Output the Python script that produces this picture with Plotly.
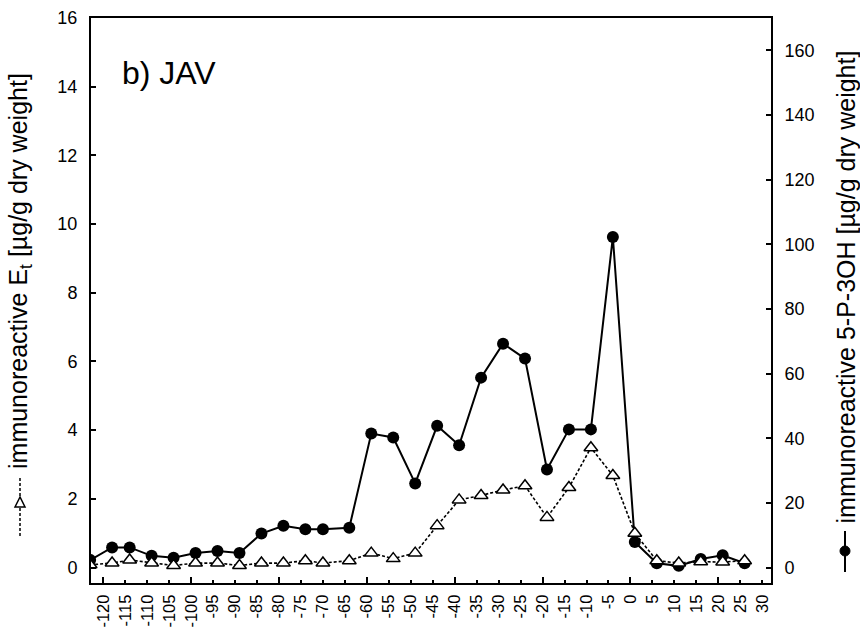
import plotly.graph_objects as go

# ---- data ----
days = [-123, -118, -114, -109, -104, -99, -94, -89, -84, -79, -74, -70, -64, -59, -54, -49,
        -44, -39, -34, -29, -24, -19, -14, -9, -4, 1, 6, 11, 16, 21, 26]
et_values = [0.08, 0.13, 0.22, 0.13, 0.06, 0.13, 0.13, 0.06, 0.13, 0.13, 0.20, 0.13, 0.20, 0.42, 0.26, 0.42,
             1.22, 1.97, 2.10, 2.26, 2.38, 1.46, 2.33, 3.49, 2.68, 1.00, 0.20, 0.13, 0.17, 0.16, 0.20]
p3oh_values = [2.4, 6.3, 6.3, 3.7, 3.1, 4.6, 5.2, 4.6, 10.6, 13.0, 11.9, 11.9, 12.4, 41.5, 40.3, 26.1,
               43.9, 37.9, 58.8, 69.3, 64.7, 30.4, 42.8, 42.8, 102.3, 8.0, 1.4, 0.6, 2.7, 3.9, 1.4]
x_ticks = list(range(-120, 31, 5))
left_ticks = list(range(0, 17, 2))
right_ticks = list(range(0, 161, 20))

W, H = 860, 634
L, R, T, B = 91, 89, 18, 51
FONT = "Liberation Sans, Arial, sans-serif"


def px_x(p):
    return (p - L) / (W - L - R)


def px_y(p):
    return (H - B - p) / (H - T - B)


fig = go.Figure()

# 5-P-3OH (right axis scale) drawn first
fig.add_trace(go.Scatter(
    x=days, y=p3oh_values, mode="lines+markers", xaxis="x", yaxis="y",
    line=dict(color="black", width=2),
    marker=dict(symbol="circle", size=12, color="black"),
    showlegend=False, hoverinfo="skip"))

# E_t (left axis) on top
fig.add_trace(go.Scatter(
    x=days, y=et_values, mode="lines+markers", xaxis="x", yaxis="y2",
    line=dict(color="black", width=1.6, dash="3px,2px"),
    marker=dict(symbol="triangle-up", size=12, color="white", line=dict(color="black", width=1.5)),
    showlegend=False, hoverinfo="skip"))

# invisible trace for the long-tick overlay axis
fig.add_trace(go.Scatter(x=[None], y=[None], xaxis="x2", yaxis="y", showlegend=False, hoverinfo="skip"))

fig.update_layout(
    width=W, height=H,
    margin=dict(l=L, r=R, t=T, b=B),
    paper_bgcolor="white", plot_bgcolor="white",
    font=dict(family=FONT, size=18, color="black"),
    xaxis=dict(
        range=[-122.8, 32], tickvals=x_ticks, ticktext=[str(v) for v in x_ticks],
        tickangle=-90, ticks="inside", ticklen=3, tickwidth=1.5, tickcolor="black",
        showline=True, linewidth=2, linecolor="black", mirror=True,
        showgrid=False, zeroline=False, ticklabelstandoff=3, automargin=False,
        tickfont=dict(size=16.5)),
    xaxis2=dict(
        range=[-122.8, 32], overlaying="x", anchor="y", side="bottom",
        tickmode="linear", tick0=-120, dtick=20, automargin=False,
        ticks="inside", ticklen=6, tickwidth=1.5, tickcolor="black",
        showticklabels=False, showline=False, showgrid=False, zeroline=False),
    yaxis=dict(
        range=[-4.7, 170], side="right", tickvals=right_ticks,
        ticks="inside", ticklen=5, tickwidth=1.5, tickcolor="black",
        showline=True, linewidth=2, linecolor="black", automargin=False,
        showgrid=False, zeroline=False, ticklabelstandoff=8,
        tickfont=dict(size=18)),
    yaxis2=dict(
        range=[-0.45, 16], side="left", overlaying="y", anchor="x", tickvals=left_ticks,
        ticks="inside", ticklen=5, tickwidth=1.5, tickcolor="black",
        showline=True, linewidth=2, linecolor="black", automargin=False,
        showgrid=False, zeroline=False, ticklabelstandoff=8,
        tickfont=dict(size=18)),
)

# panel label
fig.add_annotation(text="b) JAV", xref="paper", yref="paper",
                   x=px_x(120), y=px_y(73), xanchor="left", yanchor="middle",
                   showarrow=False, font=dict(family=FONT, size=32, color="black"))

# axis titles (rotated)
fig.add_annotation(text="immunoreactive E<sub>t</sub> [µg/g dry weight]",
                   xref="paper", yref="paper", x=px_x(20), y=px_y(471),
                   xanchor="center", yanchor="bottom", textangle=-90, showarrow=False,
                   font=dict(family=FONT, size=25, color="black"))
fig.add_annotation(text="immunoreactive 5-P-3OH [µg/g dry weight]",
                   xref="paper", yref="paper", x=px_x(845), y=px_y(526),
                   xanchor="center", yanchor="bottom", textangle=-90, showarrow=False,
                   font=dict(family=FONT, size=25, color="black"))

# legend keys beside the axis titles
fig.add_shape(type="line", xref="paper", yref="paper",
              x0=px_x(20), x1=px_x(20), y0=px_y(478), y1=px_y(537),
              line=dict(color="black", width=1.5, dash="3px,2px"))
fig.add_shape(type="path", xref="paper", yref="paper",
              path="M {} {} L {} {} L {} {} Z".format(px_x(20), px_y(497), px_x(15), px_y(507), px_x(25), px_y(507)),
              fillcolor="white", line=dict(color="black", width=1.5))
fig.add_shape(type="line", xref="paper", yref="paper",
              x0=px_x(845), x1=px_x(845), y0=px_y(531), y1=px_y(572),
              line=dict(color="black", width=2))
fig.add_shape(type="circle", xref="paper", yref="paper",
              x0=px_x(840), x1=px_x(850), y0=px_y(546), y1=px_y(556),
              fillcolor="black", line=dict(color="black", width=1))

fig.write_html("out.html")
